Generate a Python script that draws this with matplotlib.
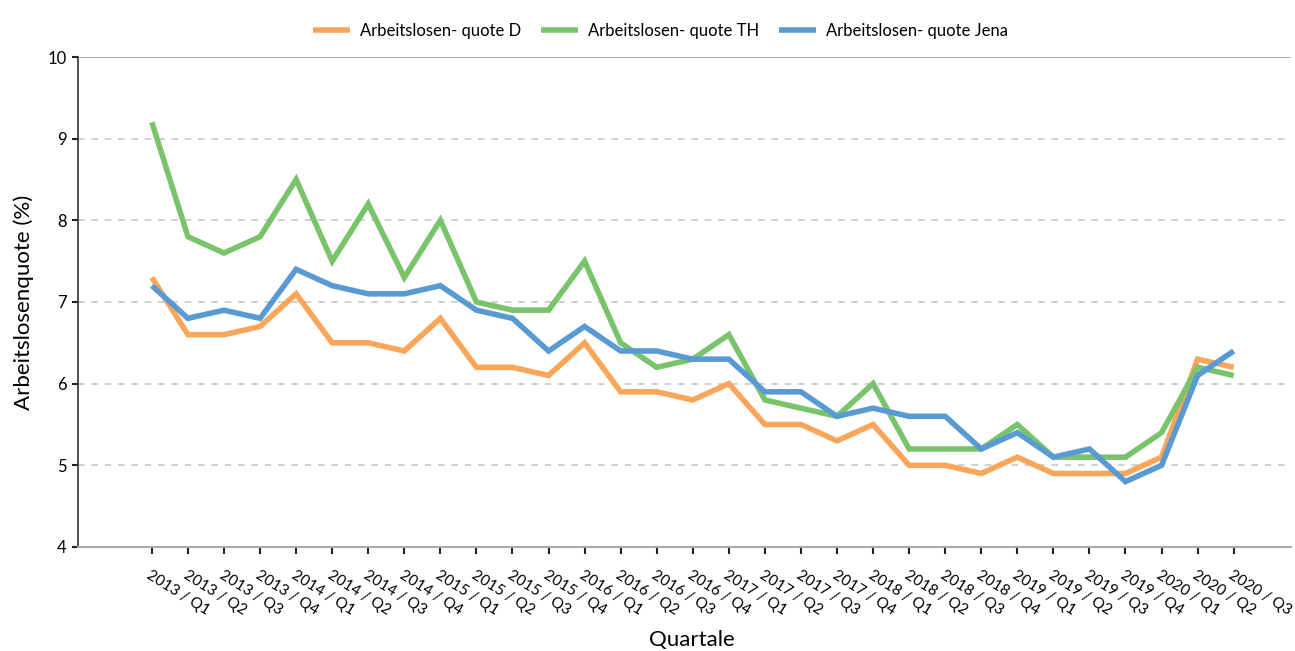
import matplotlib
matplotlib.use("Agg")
import matplotlib.pyplot as plt
import numpy as np

plt.rcParams['font.family'] = ['Lato', 'DejaVu Sans']

quarters = ["2013 / Q1", "2013 / Q2", "2013 / Q3", "2013 / Q4",
            "2014 / Q1", "2014 / Q2", "2014 / Q3", "2014 / Q4",
            "2015 / Q1", "2015 / Q2", "2015 / Q3", "2015 / Q4",
            "2016 / Q1", "2016 / Q2", "2016 / Q3", "2016 / Q4",
            "2017 / Q1", "2017 / Q2", "2017 / Q3", "2017 / Q4",
            "2018 / Q1", "2018 / Q2", "2018 / Q3", "2018 / Q4",
            "2019 / Q1", "2019 / Q2", "2019 / Q3", "2019 / Q4",
            "2020 / Q1", "2020 / Q2", "2020 / Q3"]
quote_D = [7.3, 6.6, 6.6, 6.7, 7.1, 6.5, 6.5, 6.4, 6.8, 6.2, 6.2, 6.1, 6.5, 5.9, 5.9, 5.8,
           6.0, 5.5, 5.5, 5.3, 5.5, 5.0, 5.0, 4.9, 5.1, 4.9, 4.9, 4.9, 5.1, 6.3, 6.2]
quote_TH = [9.2, 7.8, 7.6, 7.8, 8.5, 7.5, 8.2, 7.3, 8.0, 7.0, 6.9, 6.9, 7.5, 6.5, 6.2, 6.3,
            6.6, 5.8, 5.7, 5.6, 6.0, 5.2, 5.2, 5.2, 5.5, 5.1, 5.1, 5.1, 5.4, 6.2, 6.1]
quote_Jena = [7.2, 6.8, 6.9, 6.8, 7.4, 7.2, 7.1, 7.1, 7.2, 6.9, 6.8, 6.4, 6.7, 6.4, 6.4, 6.3,
              6.3, 5.9, 5.9, 5.6, 5.7, 5.6, 5.6, 5.2, 5.4, 5.1, 5.2, 4.8, 5.0, 6.1, 6.4]
series_names = ["Arbeitslosen- quote D", "Arbeitslosen- quote TH", "Arbeitslosen- quote Jena"]
colors = ["#F9A65A", "#79C36A", "#599AD3"]

fig = plt.figure(figsize=(12.95, 6.51), dpi=100)
ax = fig.add_axes([0.0602, 0.1598, 0.937, 0.7526])

x = np.arange(len(quarters))
for vals, name, c in zip([quote_D, quote_TH, quote_Jena], series_names, colors):
    ax.plot(x, vals, color=c, lw=4, label=name, solid_joinstyle='miter', solid_capstyle='butt')

ax.set_ylim(4, 10)
ax.set_xlim(-2.05, 31.6)
ax.set_yticks([4, 5, 6, 7, 8, 9, 10])
ax.set_yticklabels(["4", "5", "6", "7", "8", "9", "10"], fontsize=12)
for yv in [5, 6, 7, 8, 9]:
    ax.axhline(yv, color="#c8c8c8", lw=1.2, ls=(0, (4, 4)), zorder=0)
ax.axhline(10, color="#b4b4b4", lw=1.5, zorder=0)

ax.set_xticks(x)
ax.set_xticklabels(quarters, rotation=-32, ha='left', va='top', rotation_mode='anchor', fontsize=11)
ax.tick_params(axis='x', length=5, width=1.5, color="#222222", pad=10)
ax.tick_params(axis='y', length=4, width=1.5, color="#222222", pad=4)

for s in ['top', 'right']:
    ax.spines[s].set_visible(False)
ax.spines['left'].set_color("#333333")
ax.spines['left'].set_linewidth(1.2)
ax.spines['bottom'].set_color("#aaaaaa")
ax.spines['bottom'].set_linewidth(1.5)

ax.set_ylabel("Arbeitslosenquote (%)", fontsize=16, labelpad=10)
ax.set_xlabel("Quartale", fontsize=16)
ax.xaxis.set_label_coords(0.506, -0.19)
ax.xaxis.label.set_va('center')

leg = ax.legend(loc='upper center', bbox_to_anchor=(0.48, 1.1), ncol=3, frameon=False,
                fontsize=12, handlelength=2.2, columnspacing=1.2, handletextpad=0.6)

fig.savefig("out.png", dpi=100)
